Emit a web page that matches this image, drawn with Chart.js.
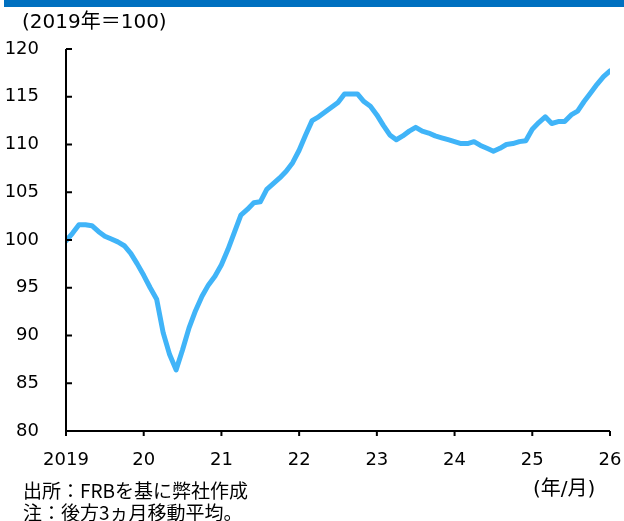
<!DOCTYPE html>
<html>
<head>
<meta charset="utf-8">
<script src="https://cdn.jsdelivr.net/npm/chart.js@4"></script>
<style>
  body { margin: 0; background: #fff; }
  #wrap { position: relative; width: 624px; height: 521px; overflow: hidden; }
  .txt { position: absolute; font-family: "DejaVu Sans", "Noto Sans CJK JP", sans-serif; color: #000; white-space: nowrap; }
  .jp { font-family: "Noto Sans CJK JP", "DejaVu Sans", sans-serif; }
</style>
</head>
<body>
<div id="wrap">
  <div style="position:absolute;left:4px;top:0;width:620px;height:7px;background:#0070c0"></div>
  <canvas id="c" width="624" height="521"></canvas>
  <div class="txt" style="left:22px;top:5px;font-size:20px">(2019年＝100)</div>
  <div class="txt" style="left:533px;top:472px;font-size:20px">(年/月)</div>
  <div class="txt jp" style="left:23px;top:476px;font-size:19px">出所：FRBを基に弊社作成</div>
  <div class="txt jp" style="left:23px;top:498px;font-size:19px">注：後方3ヵ月移動平均。</div>
</div>
<script>
// monthly, 2019/01 - 2026/01
const values = [
  99.9, 100.7, 101.6, 101.6, 101.5, 100.9, 100.4, 100.1, 99.8, 99.4, 98.6, 97.5,   // 2019
  96.3, 95.0, 93.8, 90.3, 88.0, 86.4, 88.5, 90.8, 92.6, 94.1, 95.3, 96.2,         // 2020
  97.4, 99.0, 100.8, 102.6, 103.2, 103.9, 104.0, 105.3, 105.9, 106.5, 107.2, 108.1, // 2021
  109.4, 111.0, 112.5, 112.9, 113.4, 113.9, 114.4, 115.3, 115.3, 115.3, 114.5, 114.0, // 2022
  113.1, 112.0, 111.0, 110.5, 110.9, 111.4, 111.8, 111.4, 111.2, 110.9, 110.7, 110.5, // 2023
  110.3, 110.1, 110.1, 110.3, 109.9, 109.6, 109.3, 109.6, 110.0, 110.1, 110.3, 110.4, // 2024
  111.6, 112.3, 112.9, 112.2, 112.4, 112.4, 113.1, 113.5, 114.5, 115.4, 116.3, 117.1, // 2025
  117.7                                                                              // 2026/01
];
const yearLabels = ["2019", "20", "21", "22", "23", "24", "25", "26"];
const yTicks = [80, 85, 90, 95, 100, 105, 110, 115, 120];

const points = values.map((v, i) => ({ x: i, y: v }));

// axis lines + ticks (y ticks point inward, x ticks outward)
const axisPlugin = {
  id: "axes",
  afterDraw(chart) {
    const { ctx, chartArea } = chart;
    const xs = chart.scales.x, ys = chart.scales.y;
    ctx.save();
    ctx.strokeStyle = "#000";
    ctx.lineWidth = 2;
    ctx.beginPath();
    ctx.moveTo(chartArea.left, chartArea.top);
    ctx.lineTo(chartArea.left, chartArea.bottom);
    ctx.lineTo(chartArea.right, chartArea.bottom);
    yTicks.forEach((t) => {
      const y = ys.getPixelForValue(t);
      ctx.moveTo(chartArea.left, y);
      ctx.lineTo(chartArea.left + 6, y);
    });
    yearLabels.forEach((l, i) => {
      const x = xs.getPixelForValue(i * 12);
      ctx.moveTo(x, chartArea.bottom);
      ctx.lineTo(x, chartArea.bottom + 5);
    });
    ctx.stroke();
    ctx.restore();
  },
};

new Chart(document.getElementById("c"), {
  type: "line",
  data: {
    datasets: [{
      data: points,
      borderColor: "#40b4f8",
      borderWidth: 5,
      pointRadius: 0,
      tension: 0,
      borderJoinStyle: "round",
      borderCapStyle: "round",
    }],
  },
  options: {
    responsive: false,
    animation: false,
    layout: { padding: { top: 49, right: 14, left: 0, bottom: 0 } },
    plugins: { legend: { display: false }, tooltip: { enabled: false } },
    scales: {
      x: {
        type: "linear",
        min: 0,
        max: 84,
        grid: { display: false },
        border: { display: false },
        afterFit: (s) => { s.height = 90; s.paddingLeft = 0; s.paddingRight = 0; },
        afterBuildTicks: (s) => { s.ticks = yearLabels.map((l, i) => ({ value: i * 12 })); },
        ticks: {
          autoSkip: false,
          maxRotation: 0,
          padding: 11,
          color: "#000",
          font: { family: "DejaVu Sans", size: 18 },
          callback: (v) => yearLabels[v / 12],
        },
      },
      y: {
        min: 80,
        max: 120,
        grid: { display: false },
        border: { display: false },
        afterFit: (s) => { s.width = 66; },
        afterBuildTicks: (s) => { s.ticks = yTicks.map((v) => ({ value: v })); },
        ticks: {
          padding: 19,
          color: "#000",
          font: { family: "DejaVu Sans", size: 18 },
        },
      },
    },
  },
  plugins: [axisPlugin],
});
</script>
</body>
</html>
